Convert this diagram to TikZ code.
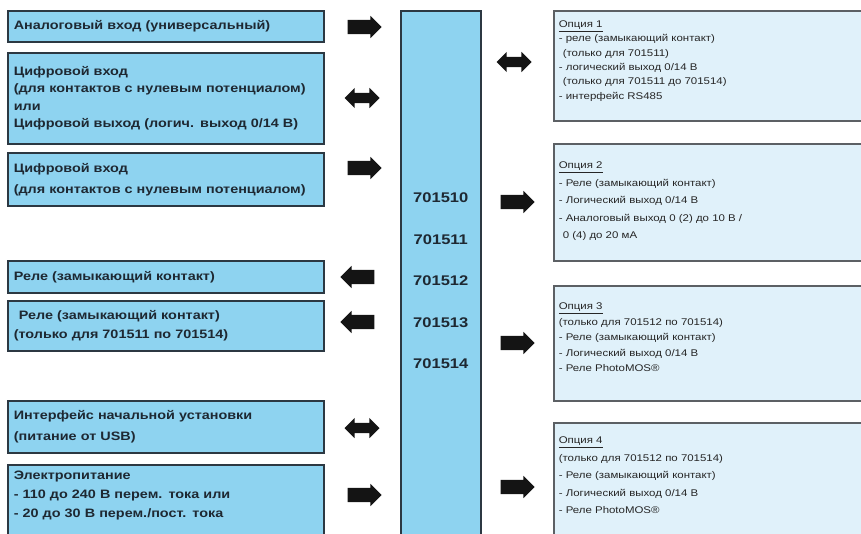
\documentclass[tikz,border=0pt]{standalone}
\usepackage{fontspec}
\setmainfont{Liberation Sans}[FakeStretch=1.18]
\usepackage{tikz}
\usetikzlibrary{shapes.arrows, positioning}
\definecolor{inbg}{RGB}{142,211,240}
\definecolor{optbg}{RGB}{224,241,250}
\definecolor{inframe}{RGB}{44,56,66}
\definecolor{optframe}{RGB}{92,96,100}
\definecolor{inktext}{RGB}{30,40,50}
\newcommand{\optpar}[3]{\parbox[t][#1][t]{320pt}{\vspace*{#2}#3}}

\begin{document}
\begin{tikzpicture}[x=1pt, y=-1pt,
  io/.style={draw=inframe, line width=1.6pt, fill=inbg, anchor=north west, minimum width=316pt, text width=304pt, inner xsep=6pt, align=left, text=inktext, font=\bfseries\fontsize{12.2}{19}\selectfont},
  unit/.style={draw=inframe, line width=1.6pt, fill=inbg, anchor=north west, minimum width=80pt, minimum height=540pt, align=center, text=inktext, font=\bfseries\fontsize{14}{41.5}\selectfont},
  opt/.style={draw=optframe, line width=1.6pt, fill=optbg, anchor=north west, inner xsep=5pt, inner ysep=6pt, align=left, text=black!85, font=\fontsize{9.7}{14.3}\selectfont},
  rarr/.style={single arrow, fill=black!92, minimum height=34pt, inner xsep=0pt, inner ysep=7pt, single arrow head extend=4pt},
  larr/.style={rarr, shape border rotate=180},
  darr/.style={double arrow, fill=black!92, minimum height=35pt, inner xsep=0pt, inner ysep=5pt, double arrow head extend=5pt}
]
  \useasboundingbox (0,0) rectangle (861,533);
  \clip (0,0) rectangle (861,533);

  % inputs and outputs, left side
  \node[io, minimum height=31pt] (analog) at (7,10) {Аналоговый вход (универсальный)};
  \node[io, minimum height=91pt, font=\bfseries\fontsize{12.2}{17.5}\selectfont] (digio) at (7,52)
    {Цифровой вход\\(для контактов с нулевым потенциалом)\\или\\Цифровой выход (логич. выход 0/14 В)};
  \node[io, minimum height=53pt, font=\bfseries\fontsize{12.2}{21}\selectfont] (digin) at (7,152) {Цифровой вход\\(для контактов с нулевым потенциалом)};
  \node[io, minimum height=32pt] (relay) at (7,260) {Реле (замыкающий контакт)};
  \node[io, minimum height=50pt] (relayb) at (7,300) {\hspace*{5pt}Реле (замыкающий контакт)\\(только для 701511 по 701514)};
  \node[io, minimum height=52pt, font=\bfseries\fontsize{12.2}{21}\selectfont] (setup) at (7,400) {Интерфейс начальной установки\\(питание от USB)};
  \node[io, minimum height=90pt, inner ysep=5pt] (power) at (7,464)
    {\parbox[t][78pt][t]{304pt}{Электропитание\\- 110 до 240 В перем. тока или\\- 20 до 30 В перем./пост. тока}};

  % device
  \node[unit] (device) at (400,10) {701510\\701511\\701512\\701513\\701514};

  \node[rarr] (a1) at (361,27) {};
  \node[darr] (a2) at (362,98) {};
  \node[rarr] (a3) at (361,168) {};
  \node[larr] (a4) at (361,277) {};
  \node[larr] (a5) at (361,322) {};
  \node[darr] (a6) at (362,428) {};
  \node[rarr] (a7) at (361,495) {};

  % options, right side
  \node[opt] (opt1) at (553,10) {\optpar{98pt}{4pt}{\underline{Опция 1}\\- реле (замыкающий контакт)\\\hspace*{4pt}(только для 701511)\\- логический выход 0/14 В\\\hspace*{4pt}(только для 701511 до 701514)\\- интерфейс RS485}};
  \node[opt, font=\fontsize{9.7}{17.5}\selectfont] (opt2) at (553,143) {\optpar{105pt}{12pt}{\underline{Опция 2}\\- Реле (замыкающий контакт)\\- Логический выход 0/14 В\\- Аналоговый выход 0 (2) до 10 В /\\\hspace*{4pt}0 (4) до 20 мА}};
  \node[opt, font=\fontsize{9.7}{15.5}\selectfont] (opt3) at (553,285) {\optpar{103pt}{11pt}{\underline{Опция 3}\\(только для 701512 по 701514)\\- Реле (замыкающий контакт)\\- Логический выход 0/14 В\\- Реле PhotoMOS®}};
  \node[opt, font=\fontsize{9.7}{17.5}\selectfont] (opt4) at (553,422) {\optpar{120pt}{8pt}{\underline{Опция 4}\\(только для 701512 по 701514)\\- Реле (замыкающий контакт)\\- Логический выход 0/14 В\\- Реле PhotoMOS®}};

  \node[darr] (b1) at (514,62) {};
  \node[rarr] (b2) at (514,202) {};
  \node[rarr] (b3) at (514,343) {};
  \node[rarr] (b4) at (514,487) {};
\end{tikzpicture}
\end{document}
